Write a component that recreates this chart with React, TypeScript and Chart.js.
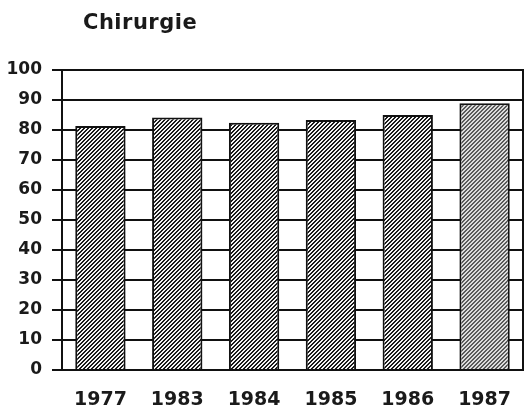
import React, { useEffect, useRef } from "react";
import { Chart, registerables } from "chart.js";

Chart.register(...registerables);

const title = "Chirurgie";
const categories = ["1977", "1983", "1984", "1985", "1986", "1987"];
const values = [81.3, 84.2, 82.4, 83.3, 85, 88.9];
const yTicks = [0, 10, 20, 30, 40, 50, 60, 70, 80, 90, 100];

function makeHatch(line: string, bg: string): CanvasPattern | string {
  const s = 4;
  const c = document.createElement("canvas");
  c.width = s;
  c.height = s;
  const g = c.getContext("2d");
  if (!g) return line;
  g.fillStyle = bg;
  g.fillRect(0, 0, s, s);
  g.fillStyle = line;
  for (let y = 0; y < s; y++) {
    for (let k = 0; k < 2; k++) {
      const x = (s - 1 - y + k + s) % s;
      g.fillRect(x, y, 1, 1);
    }
  }
  const p = g.createPattern(c, "repeat");
  return p || line;
}

export default function App() {
  const ref = useRef<HTMLCanvasElement | null>(null);

  useEffect(() => {
    const canvas = ref.current;
    if (!canvas) return;
    const dark = makeHatch("#1a1a1a", "#f4f4f4");
    const light = makeHatch("#5a5a5a", "#dcdcdc");
    const colors = values.map((_, i) => (i === values.length - 1 ? light : dark));

    const frame = {
      id: "frame",
      afterDatasetsDraw(chart: any) {
        const { ctx, chartArea } = chart;
        ctx.save();
        ctx.strokeStyle = "#111";
        ctx.lineWidth = 2;
        ctx.beginPath();
        ctx.moveTo(chartArea.right, chartArea.top - 1);
        ctx.lineTo(chartArea.right, chartArea.bottom);
        ctx.stroke();
        ctx.restore();
      },
      afterDraw(chart: any) {
        const { ctx } = chart;
        ctx.save();
        ctx.fillStyle = "#1a1a1a";
        ctx.font = "bold 21px 'DejaVu Sans'";
        (ctx as any).letterSpacing = "0.5px";
        ctx.textAlign = "left";
        ctx.textBaseline = "alphabetic";
        ctx.fillText(title, 83, 29);
        ctx.restore();
      },
    };

    const chart = new Chart(canvas, {
      type: "bar",
      data: {
        labels: categories,
        datasets: [
          {
            data: values,
            backgroundColor: colors as any,
            borderColor: "#111",
            borderWidth: 2,
            borderSkipped: "start",
            barPercentage: 0.655,
            categoryPercentage: 1,
          },
        ],
      },
      options: {
        animation: false,
        responsive: false,
        maintainAspectRatio: false,
        layout: { padding: { top: 70, right: 1, left: 0, bottom: 0 } },
        plugins: {
          legend: { display: false },
          title: { display: false },
          tooltip: { enabled: false },
        },
        scales: {
          x: {
            grid: { display: false, drawTicks: false },
            border: { display: true, color: "#111", width: 2 },
            ticks: {
              color: "#1a1a1a",
              font: { family: "'DejaVu Sans'", size: 19, weight: "bold" },
              padding: 19,
              maxRotation: 0,
            },
            afterFit: (s: any) => {
              s.height = 47;
              s.paddingLeft = 0;
              s.paddingRight = 0;
            },
          },
          y: {
            min: 0,
            max: 100,
            afterBuildTicks: (s: any) => {
              s.ticks = yTicks.map((v) => ({ value: v }));
            },
            grid: { color: "#111", lineWidth: 2, tickLength: 10, drawTicks: true },
            border: { display: true, color: "#111", width: 2 },
            ticks: {
              color: "#1a1a1a",
              font: { family: "'DejaVu Sans'", size: 17, weight: "bold" },
              padding: 10,
            },
            afterFit: (s: any) => {
              s.width = 62;
            },
          },
        },
      },
      plugins: [frame],
    });
    return () => chart.destroy();
  }, []);

  return (
    <div style={{ position: "fixed", left: 0, top: 0, width: 524, height: 417, background: "#fff" }}>
      <canvas ref={ref} width={524} height={417} style={{ display: "block" }} />
    </div>
  );
}
